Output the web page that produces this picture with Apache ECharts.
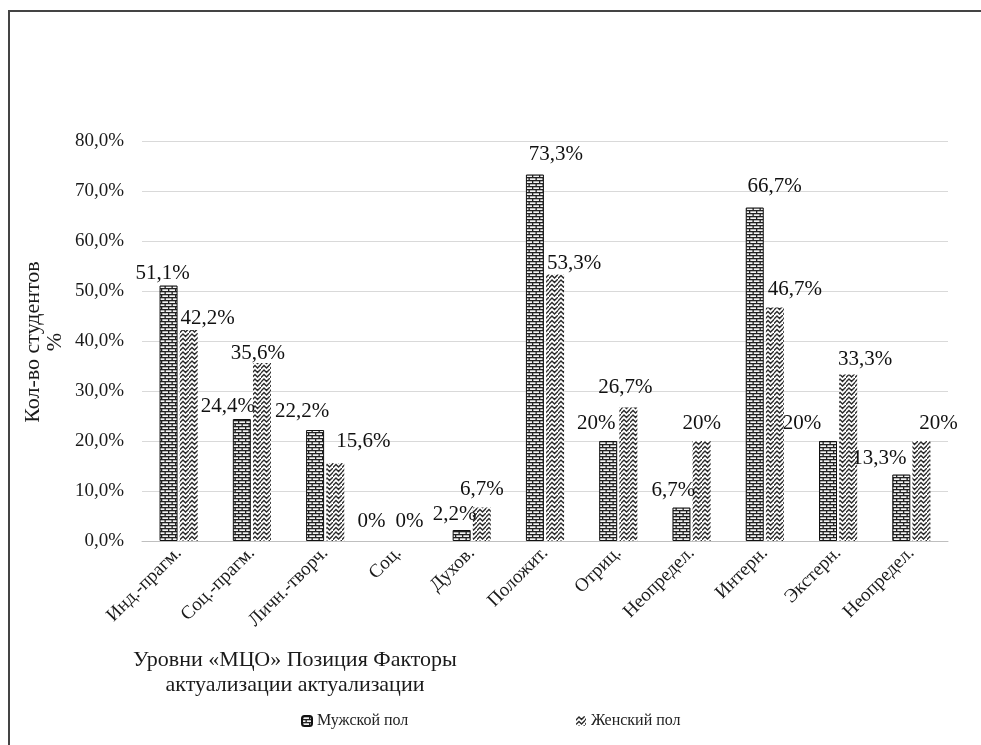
<!DOCTYPE html>
<html><head><meta charset="utf-8">
<script src="https://cdn.jsdelivr.net/npm/echarts@6/dist/echarts.min.js"></script>
<style>html,body{margin:0;padding:0;background:#fff}#c{width:981px;height:745px}</style>
</head><body><div id="c"></div>
<script>
var categories = ['Инд.-прагм.','Соц.-прагм.','Личн.-творч.','Соц.','Духов.','Положит.','Отриц.','Неопредел.','Интерн.','Экстерн.','Неопредел.'];
var maleValues = [51.1, 24.4, 22.2, 0, 2.2, 73.3, 20, 6.7, 66.7, 20, 13.3];
var femaleValues = [42.2, 35.6, 15.6, 0, 6.7, 53.3, 26.7, 20, 46.7, 33.3, 20];
var seriesNames = ['Мужской пол', 'Женский пол'];
var yTicks = [0, 10, 20, 30, 40, 50, 60, 70, 80];
var yAxisTitle = 'Кол-во студентов\n%';
var xAxisTitle = 'Уровни «МЦО» Позиция Факторы\nактуализации актуализации';
// label nudges (style only)
var maleLabelOffsets = [[-6,0],[-14,0],[-13,-6],[-17,-7],[-7,-3],[21,-8],[-12,-5],[-8,-5],[20,-9],[-26,-5],[-22,-4]];
var femaleLabelOffsets = [[19,1],[-4,3],[28,-9],[1,-7],[0,-6],[19,1],[-3,-8],[0,-5],[20,-6],[17,-3],[17,-5]];

function brick(){
  var c=document.createElement('canvas');c.width=7;c.height=6;var g=c.getContext('2d');
  g.fillStyle='#f4f4f4';g.fillRect(0,0,7,6);
  g.fillStyle='#222';
  g.fillRect(0,0,7,1.3);g.fillRect(0,3,7,1.3);
  g.fillRect(0,0,1.3,3);g.fillRect(3.5,3,1.3,3);
  return c;
}
function zigzag(){
  var c=document.createElement('canvas');c.width=9;c.height=9;var g=c.getContext('2d');
  g.fillStyle='#ffffff';g.fillRect(0,0,9,9);
  g.strokeStyle='#2a2a2a';g.lineWidth=1.4;
  g.beginPath();
  g.moveTo(-1,5);g.lineTo(3,1);g.lineTo(5.5,3.5);g.lineTo(9.5,-0.5);
  g.moveTo(-1,9.5);g.lineTo(3,5.5);g.lineTo(5.5,8);g.lineTo(9.5,4);
  g.stroke();
  return c;
}
function fmt(v){ return (Math.round(v)===v ? String(v) : v.toFixed(1).replace('.',',')) + '%'; }
function mk(vals, offs){
  return vals.map(function(v,i){ return {value:v, label:{offset:offs[i]}, itemStyle: v===0 ? {borderWidth:0, color:'rgba(0,0,0,0)'} : {}}; });
}
var font = 'Liberation Serif';
var chart = echarts.init(document.getElementById('c'), null, {renderer:'canvas'});
chart.setOption({
  backgroundColor:'#ffffff',
  animation:false,
  grid:{left:142,right:33,top:141,bottom:204,containLabel:false},
  legend:[
    {data:[seriesNames[0]],left:296,top:708,itemWidth:10,itemHeight:10,itemGap:4,
     textStyle:{fontFamily:font,fontSize:16,color:'#222'}},
    {data:[seriesNames[1]],left:571,top:708,itemWidth:10,itemHeight:10,itemGap:4,
     textStyle:{fontFamily:font,fontSize:16,color:'#222'}}
  ],
  xAxis:{type:'category',data:categories,
    axisLine:{lineStyle:{color:'#bfbfbf'}},axisTick:{show:false},
    axisLabel:{rotate:45,interval:0,fontFamily:font,fontSize:19,color:'#1a1a1a',margin:9}},
  yAxis:{type:'value',min:yTicks[0],max:yTicks[yTicks.length-1],interval:10,
    axisLine:{show:false},axisTick:{show:false},
    splitLine:{lineStyle:{color:'#d9d9d9'}},
    axisLabel:{formatter:function(v){return v.toFixed(1).replace('.',',')+'%';},fontFamily:font,fontSize:19,color:'#1a1a1a',margin:18}},
  graphic:[
    {type:'rect',shape:{x:9,y:11,width:1100,height:900},style:{fill:'none',stroke:'#444',lineWidth:2},silent:true},
    {type:'text',x:44,y:342,rotation:Math.PI/2,style:{text:yAxisTitle,fontFamily:font,fontSize:22,fill:'#1a1a1a',align:'center',verticalAlign:'middle',lineHeight:22}},
    {type:'text',x:295,y:673,style:{text:xAxisTitle,fontFamily:font,fontSize:22,fill:'#1a1a1a',align:'center',verticalAlign:'middle',lineHeight:25}}
  ],
  series:[
    {name:seriesNames[0],type:'bar',data:mk(maleValues,maleLabelOffsets),barWidth:18,barGap:'12%',
     itemStyle:{color:{image:brick(),repeat:'repeat'},borderColor:'#111',borderWidth:1},
     label:{show:true,position:'top',distance:2,formatter:function(p){return fmt(p.value);},fontFamily:font,fontSize:21,color:'#111'}},
    {name:seriesNames[1],type:'bar',data:mk(femaleValues,femaleLabelOffsets),barWidth:18,
     itemStyle:{color:{image:zigzag(),repeat:'repeat'}},
     label:{show:true,position:'top',distance:2,formatter:function(p){return fmt(p.value);},fontFamily:font,fontSize:21,color:'#111'}}
  ]
});
</script></body></html>
